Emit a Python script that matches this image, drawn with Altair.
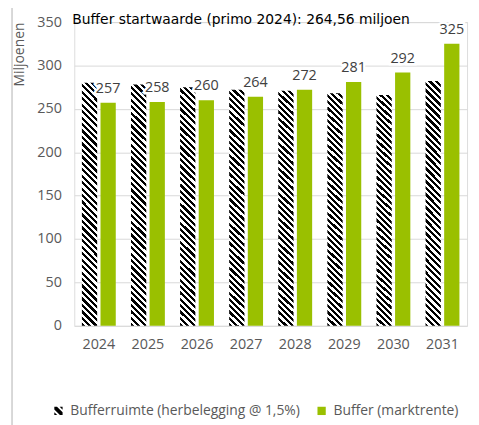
import altair as alt
import pandas as pd

years = ["2024", "2025", "2026", "2027", "2028", "2029", "2030", "2031"]
bufferruimte = [280, 278, 275, 272, 271, 268, 266, 282]
buffer_markt = [257, 258, 260, 264, 272, 281, 292, 325]
series_names = ["Bufferruimte (herbelegging @ 1,5%)", "Buffer (marktrente)"]
y_ticks = [0, 50, 100, 150, 200, 250, 300, 350]
title_text = "Buffer startwaarde (primo 2024): 264,56 miljoen"
y_title = "Miljoenen"

rows = []
for i, yr in enumerate(years):
    rows.append({"year": yr, "series": series_names[0], "value": bufferruimte[i]})
    rows.append({"year": yr, "series": series_names[1], "value": buffer_markt[i]})
df = pd.DataFrame(rows)

GREEN = "#9ac000"
TXT = "#595959"
FONT = "Open Sans"
FS = 14.5

# diagonal hatch as a striped linear gradient
N = 40
stops = []
for k in range(N):
    a, b, c = k / N, (k + 0.5) / N, (k + 1) / N
    stops += [
        alt.GradientStop(offset=a, color="black"),
        alt.GradientStop(offset=b, color="black"),
        alt.GradientStop(offset=b, color="white"),
        alt.GradientStop(offset=c, color="white"),
    ]
hatch = alt.LinearGradient(gradient="linear", stops=stops, x1=0, y1=1, x2=0.0667, y2=-0.059)

HATCH_PATH = ("M-1,-1L-0.35,-1L1,0.35L1,1L0.35,1L-1,-0.35Z"
              "M0.3,-1L1,-1L1,-0.3Z"
              "M-1,0.3L-0.3,1L-1,1Z")

x_enc = alt.X(
    "year:N", sort=years,
    scale=alt.Scale(paddingInner=0.31, paddingOuter=0.155),
    axis=alt.Axis(title=None, labelFont=FONT, labelFontSize=FS, labelColor=TXT,
                  labelPadding=12, ticks=False, domain=False, labelAngle=0),
)
y_enc = alt.Y(
    "value:Q",
    scale=alt.Scale(domain=[0, 350], nice=False),
    axis=alt.Axis(values=y_ticks, title=y_title, titleFont=FONT, titleFontSize=14,
                  titleColor=TXT, titleFontWeight="normal", titleAngle=270,
                  titleX=-62, titleY=0, titleAlign="right", titleBaseline="top",
                  labelFont=FONT, labelFontSize=FS, labelColor=TXT, labelPadding=13,
                  grid=True, gridColor="#d9d9d9", domain=False, ticks=False),
)
xo_enc = alt.XOffset("series:N", sort=series_names,
                     scale=alt.Scale(domain=series_names, paddingInner=0.18, paddingOuter=0))

base = alt.Chart(df)

hatched = base.transform_filter(alt.datum.series == series_names[0]).mark_bar(fill=hatch).encode(
    x=x_enc, y=y_enc, xOffset=xo_enc)
green = base.transform_filter(alt.datum.series == series_names[1]).mark_bar(color=GREEN).encode(
    x=x_enc, y=y_enc, xOffset=xo_enc)

lab_base = base.transform_filter(alt.datum.series == series_names[1])
halo = lab_base.mark_text(font=FONT, fontSize=FS, baseline="alphabetic", dy=-10,
                          stroke="white", strokeWidth=5, color="white").encode(
    x=x_enc, y=y_enc, xOffset=xo_enc, text="value:Q")
labels = lab_base.mark_text(font=FONT, fontSize=FS, baseline="alphabetic", dy=-10,
                            color="#404040").encode(
    x=x_enc, y=y_enc, xOffset=xo_enc, text="value:Q")

leg = alt.Legend(title=None, orient="none", legendX=-23, legendY=386, direction="horizontal",
                 labelFont=FONT, labelFontSize=14, labelColor=TXT, symbolSize=70,
                 labelOffset=5, columnPadding=14, symbolOpacity=1, symbolStrokeWidth=0,
                 labelLimit=0)
legend_layer = base.mark_point(filled=True, opacity=0).encode(
    x=x_enc, y=y_enc, xOffset=xo_enc,
    color=alt.Color("series:N", sort=series_names,
                    scale=alt.Scale(domain=series_names, range=["#000000", GREEN]), legend=leg),
    shape=alt.Shape("series:N", sort=series_names,
                    scale=alt.Scale(domain=series_names, range=[HATCH_PATH, "square"]), legend=leg),
)

border = base.mark_rule(color="#d9d9d9", strokeWidth=1).encode(
    x=alt.value(-63), y=alt.value(-20), y2=alt.value(410))

chart = alt.layer(border, hatched, green, halo, labels, legend_layer).properties(
    width=397, height=307,
    title=alt.Title(title_text, anchor="start", frame="group", font="DejaVu Sans", fontSize=14,
                    color="black", fontWeight="normal", dx=-2, offset=-25),
    autosize=alt.AutoSizeParams(type="none"),
    padding={"left": 67, "top": 12, "right": 4, "bottom": 98},
).configure_view(stroke=None).configure(background="white")

chart.save("out.html", embed_options={"renderer": "svg", "actions": False})
